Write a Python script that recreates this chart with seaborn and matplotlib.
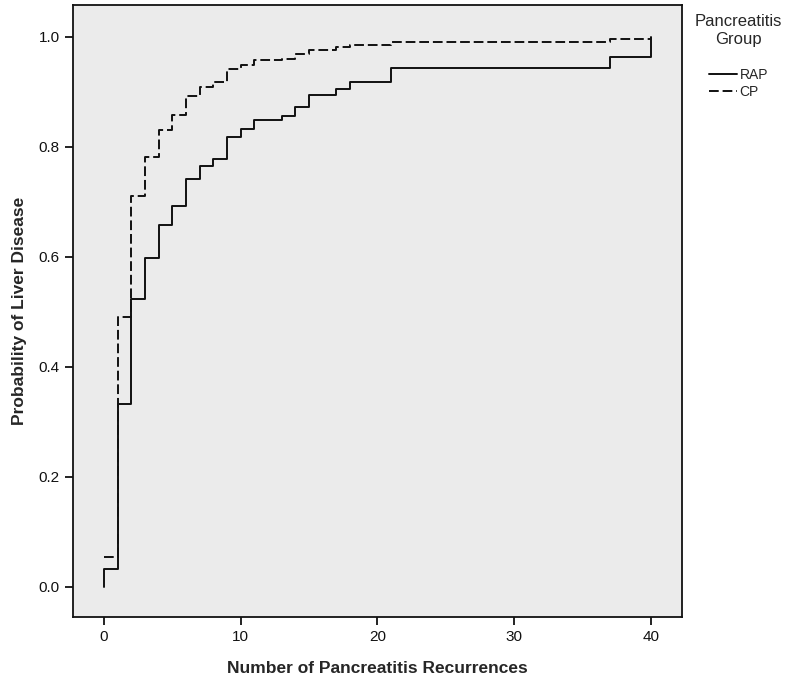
import pandas as pd
import matplotlib.pyplot as plt
import seaborn as sns

# step values
rap_x = [0, 0, 1, 2, 3, 4, 5, 6, 7, 8, 9, 10, 11, 13, 14, 15, 17, 18, 21, 37, 40, 40]
rap_y = [0.0, 0.033, 0.333, 0.524, 0.598, 0.658, 0.693, 0.741, 0.765, 0.778, 0.818,
         0.833, 0.849, 0.856, 0.873, 0.894, 0.905, 0.917, 0.944, 0.964, 0.964, 1.0]
cp_x = [0, 1, 2, 3, 4, 5, 6, 7, 8, 9, 10, 11, 13, 14, 15, 17, 18, 21, 37, 40, 40]
cp_y = [0.054, 0.490, 0.710, 0.781, 0.831, 0.858, 0.893, 0.909, 0.917, 0.941, 0.949,
        0.957, 0.960, 0.968, 0.976, 0.981, 0.985, 0.991, 0.996, 0.996, 1.0]
groups = ["RAP", "CP"]
x_ticks = [0, 10, 20, 30, 40]
y_ticks = [0.0, 0.2, 0.4, 0.6, 0.8, 1.0]

df = pd.concat([
    pd.DataFrame({"x": rap_x, "y": rap_y, "Pancreatitis Group": "RAP"}),
    pd.DataFrame({"x": cp_x, "y": cp_y, "Pancreatitis Group": "CP"}),
], ignore_index=True)

sns.set_style("ticks")
plt.rcParams["font.family"] = ["Liberation Sans", "DejaVu Sans"]

fig = plt.figure(figsize=(8, 6.87), dpi=100)
ax = fig.add_axes([0.091, 0.102, 0.762, 0.891])
ax.set_facecolor("#ebebeb")

sns.lineplot(data=df, x="x", y="y", style="Pancreatitis Group", style_order=groups,
             dashes={"RAP": "", "CP": (5, 2)}, color="#111111", linewidth=1.4,
             estimator=None, sort=False, drawstyle="steps-post", ax=ax)

ax.set_xlim(-2.27, 42.3)
ax.set_ylim(-0.0545, 1.058)
ax.set_xticks(x_ticks)
ax.set_yticks(y_ticks)
ax.set_yticklabels([f"{v:.1f}" for v in y_ticks])
ax.tick_params(direction="out", length=6, width=1.3, labelsize=11, colors="#111111")
for s in ax.spines.values():
    s.set_linewidth(1.3)
    s.set_color("#111111")

ax.set_xlabel("Number of Pancreatitis Recurrences", fontsize=12.5, fontweight="bold", labelpad=12)
ax.set_ylabel("Probability of Liver Disease", fontsize=12.5, fontweight="bold", labelpad=8)

# blank last title line keeps the gap between title and entries
leg = ax.legend(title="Pancreatitis\nGroup\n ", loc="upper left", bbox_to_anchor=(1.0, 1.005),
                frameon=False, fontsize=10, title_fontsize=12, handlelength=2.0,
                handletextpad=0.2, labelspacing=0.25)
leg.get_title().set_multialignment("center")

fig.savefig("out.png", dpi=100)
plt.close()
